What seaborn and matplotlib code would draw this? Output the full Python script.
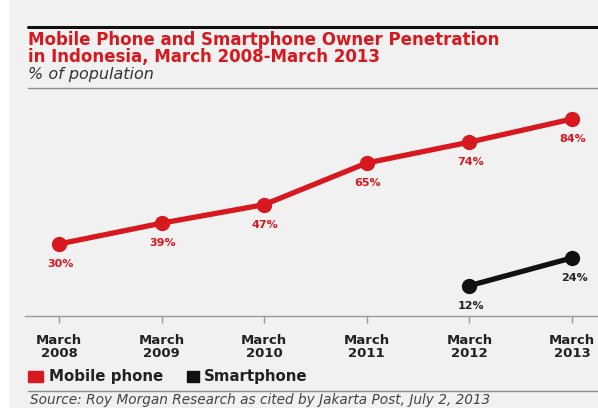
import matplotlib
matplotlib.use("Agg")
import matplotlib.pyplot as plt
import seaborn as sns
import pandas as pd
from matplotlib.lines import Line2D
from matplotlib.patches import Rectangle

# ---- data ----
categories = ["March\n2008", "March\n2009", "March\n2010", "March\n2011", "March\n2012", "March\n2013"]
mobile_phone = [30, 39, 47, 65, 74, 84]
smartphone_cats = ["March\n2012", "March\n2013"]
smartphone = [12, 24]
series_names = ["Mobile phone", "Smartphone"]

RED = "#d7191f"
BLACK = "#111111"
BG = "#f1f1f1"

rows = []
for c, v in zip(categories, mobile_phone):
    rows.append({"cat": c, "x": categories.index(c), "val": v, "series": series_names[0]})
for c, v in zip(smartphone_cats, smartphone):
    rows.append({"cat": c, "x": categories.index(c), "val": v, "series": series_names[1]})
df = pd.DataFrame(rows)

sns.set_theme(style="white")
plt.rcParams["font.family"] = ["DejaVu Sans"]

W, H = 598, 408
fig = plt.figure(figsize=(W / 100, H / 100), dpi=100)
fig.patch.set_facecolor(BG)
fig.add_artist(Rectangle((0, 0), 8 / W, 1, transform=fig.transFigure, color="white", zorder=0))

def fx(px):
    return px / W

def fy(py):
    return 1 - py / H

ax_left, ax_right = 25, 598
ax_top, ax_bottom = 95, 316
ax = fig.add_axes([fx(ax_left), fy(ax_bottom), fx(ax_right - ax_left), (ax_bottom - ax_top) / H])
ax.set_facecolor(BG)

sns.lineplot(data=df, x="x", y="val", hue="series", palette=[RED, BLACK],
             marker="o", markersize=11, markeredgewidth=0, linewidth=3.8,
             ax=ax, legend=False)

px_per_cat = (572 - 59) / 5
xmin = -(59 - ax_left) / px_per_cat
xmax = xmin + (ax_right - ax_left) / px_per_cat
ax.set_xlim(xmin, xmax)
px_per_unit = (244 - 119) / (84 - 30)
y0_px = 244 + 30 * px_per_unit
ax.set_ylim((y0_px - ax_bottom) / px_per_unit, (y0_px - ax_top) / px_per_unit)

for i, v in enumerate(mobile_phone):
    ax.annotate(f"{v}%", (i, v), xytext=(1, -20), textcoords="offset pixels",
                ha="center", va="center", fontsize=8, fontweight="bold", color=RED)
for c, v in zip(smartphone_cats, smartphone):
    i = categories.index(c)
    ax.annotate(f"{v}%", (i, v), xytext=(2, -20), textcoords="offset pixels",
                ha="center", va="center", fontsize=8, fontweight="bold", color="#222222")

for s in ["top", "right", "left"]:
    ax.spines[s].set_visible(False)
ax.spines["bottom"].set_color("#9a9a9a")
ax.spines["bottom"].set_linewidth(1.0)
ax.set_yticks([])
ax.set_xticks(range(len(categories)))
ax.set_xticklabels(categories, fontsize=9.5, fontweight="bold", color="#222222", linespacing=1.0)
ax.tick_params(axis="x", direction="out", length=5, width=1, color="#9a9a9a", pad=8, bottom=True)
ax.set_xlabel("")
ax.set_ylabel("")
ax.grid(False)

# header
fig.add_artist(Line2D([fx(28), 1], [fy(27), fy(27)], transform=fig.transFigure, color="#111111", lw=2.2))
fig.text(fx(28), fy(40), "Mobile Phone and Smartphone Owner Penetration", fontsize=12,
         fontweight="heavy", color=RED, ha="left", va="center")
fig.text(fx(28), fy(57), "in Indonesia, March 2008-March 2013", fontsize=12,
         fontweight="heavy", color=RED, ha="left", va="center")
fig.text(fx(28), fy(75), "% of population", fontsize=11.5, style="italic", color="#333333",
         ha="left", va="center")
fig.add_artist(Line2D([fx(28), 1], [fy(88), fy(88)], transform=fig.transFigure, color="#8a8a8a", lw=1.0))

# legend
fig.add_artist(Rectangle((fx(28), fy(382)), fx(15), 11 / H, transform=fig.transFigure, color=RED))
fig.text(fx(49), fy(376), "Mobile phone", fontsize=10.8, fontweight="bold", color="#222222",
         ha="left", va="center")
fig.add_artist(Rectangle((fx(187), fy(382)), fx(12), 11 / H, transform=fig.transFigure, color=BLACK))
fig.text(fx(204), fy(376), "Smartphone", fontsize=10.8, fontweight="bold", color="#222222",
         ha="left", va="center")

fig.add_artist(Line2D([fx(28), 1], [fy(391), fy(391)], transform=fig.transFigure, color="#8a8a8a", lw=1.0))
fig.text(fx(30), fy(400), "Source: Roy Morgan Research as cited by Jakarta Post, July 2, 2013",
         fontsize=9.8, style="italic", color="#444444", ha="left", va="center")

fig.savefig("out.png", dpi=100, facecolor=fig.get_facecolor())
